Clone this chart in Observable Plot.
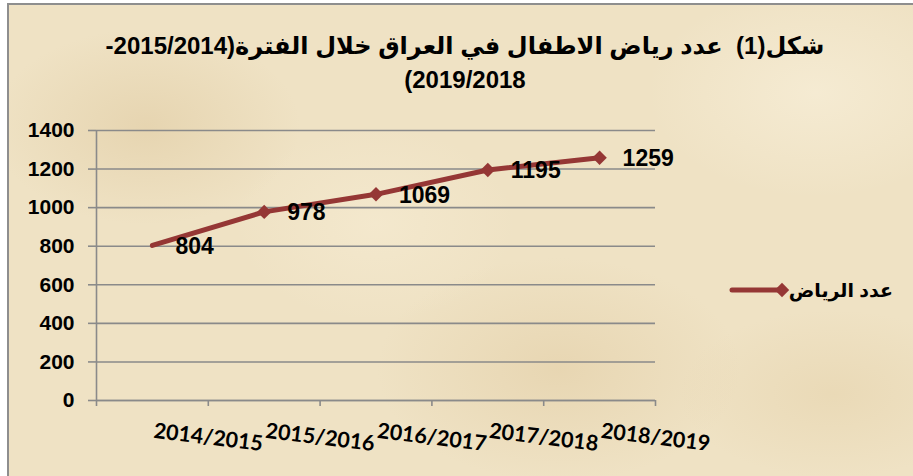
<!DOCTYPE html>
<html>
<head>
<meta charset="utf-8">
<script src="https://cdn.jsdelivr.net/npm/d3@7"></script>
<script src="https://cdn.jsdelivr.net/npm/@observablehq/plot@0.6"></script>
<style>
  html, body { margin: 0; padding: 0; background: #ffffff; }
  #wrap { position: relative; width: 913px; height: 476px; overflow: hidden; background: #ffffff; }
  #frame {
    position: absolute; left: 7px; top: 3px; width: 920px; height: 490px;
    border: 2px solid #8e8e8e; box-sizing: border-box;
    background:
      radial-gradient(ellipse 220px 140px at 15% 25%, rgba(214,188,140,0.35), transparent 70%),
      radial-gradient(ellipse 260px 160px at 60% 75%, rgba(218,192,145,0.35), transparent 70%),
      radial-gradient(ellipse 240px 150px at 88% 18%, rgba(250,242,222,0.55), transparent 70%),
      radial-gradient(ellipse 200px 140px at 40% 45%, rgba(248,238,214,0.5), transparent 70%),
      radial-gradient(ellipse 220px 120px at 90% 80%, rgba(222,198,152,0.3), transparent 70%),
      #efe2c4;
  }
  .title {
    position: absolute; left: 0; width: 930px; text-align: center;
    font-family: "Liberation Sans", "DejaVu Sans", sans-serif; font-weight: bold;
    font-size: 24px; line-height: 34px; color: #000; white-space: pre;
  }
  #chart { position: absolute; left: 0; top: 0; }
  #legend { position: absolute; left: 0; top: 0; }
</style>
</head>
<body>
<div id="wrap">
  <div id="frame"></div>
  <div id="chart"></div>
  <div id="legend"></div>
  <div class="title" id="t1" dir="rtl" style="top:29px"></div>
  <div class="title" id="t2" dir="rtl" style="top:63px"></div>
</div>
<script>
// ---- data ----
const categories = ["2014/2015", "2015/2016", "2016/2017", "2017/2018", "2018/2019"];
const values = [804, 978, 1069, 1195, 1259];
const yTicks = [0, 200, 400, 600, 800, 1000, 1200, 1400];
const seriesName = "عدد الرياض";
const titleLine1 = "شكل(1)  عدد رياض الاطفال في العراق خلال الفترة(2014\u200F/2015\u200F-";
const titleLine2 = "2018\u200F/2019)";

// ---- build ----
document.getElementById("t1").textContent = titleLine1;
document.getElementById("t2").textContent = titleLine2;

const data = categories.map((c, i) => ({i, c, v: values[i]}));
const boundaries = d3.range(categories.length + 1).map(k => k - 0.5);
const gridColor = "#8a8a8a";
const lineColor = "#953735";

const chart = Plot.plot({
  width: 913,
  height: 476,
  marginLeft: 96,
  marginRight: 258,
  marginTop: 130,
  marginBottom: 76,
  style: {background: "transparent", overflow: "visible"},
  x: {domain: [-0.5, categories.length - 0.5], axis: null},
  y: {domain: [0, 1400], axis: null},
  marks: [
    Plot.gridY(yTicks, {stroke: gridColor, strokeOpacity: 1, strokeWidth: 1.6}),
    Plot.axisY({
      ticks: yTicks, tickSize: 8, tickPadding: 14, label: null, tickFormat: d => String(d),
      stroke: gridColor, strokeWidth: 1.6, strokeOpacity: 1,
      fontSize: 21, fontWeight: "bold", fontFamily: "Liberation Sans, Arial, sans-serif", fill: "#000"
    }),
    Plot.ruleX([-0.5], {y1: 0, y2: 1400, stroke: gridColor, strokeWidth: 1.6}),
    Plot.axisX({
      ticks: boundaries, tickSize: 6, tickFormat: () => "", label: null,
      stroke: gridColor, strokeWidth: 1.6, strokeOpacity: 1
    }),
    Plot.ruleY([0], {stroke: gridColor, strokeWidth: 1.6}),
    Plot.line(data, {
      x: "i", y: "v", stroke: lineColor, strokeWidth: 5,
      strokeLinecap: "round", strokeLinejoin: "round"
    }),
    Plot.dot(data.slice(1), {x: "i", y: "v", symbol: "diamond2", r: 6.5, fill: lineColor, stroke: "none"}),
    Plot.text(data, {
      x: "i", y: "v", text: d => String(d.v), textAnchor: "start", dx: 23, dy: 1,
      fontSize: 23, fontWeight: "bold", fontFamily: "Liberation Sans, Arial, sans-serif", fill: "#000"
    }),
    Plot.text(data, {
      x: d => d.i + 0.5, y: () => 0, text: "c", dy: 37, rotate: 7,
      fontSize: 21.5, fontWeight: "bold", fontFamily: "Lato, Open Sans, sans-serif", fill: "#000"
    })
  ]
});
document.getElementById("chart").appendChild(chart);

// ---- legend ----
const lg = d3.select("#legend").append("svg")
  .attr("width", 913).attr("height", 476)
  .style("display", "block");
lg.append("line")
  .attr("x1", 732).attr("x2", 781).attr("y1", 290).attr("y2", 290)
  .attr("stroke", lineColor).attr("stroke-width", 5).attr("stroke-linecap", "round");
lg.append("path")
  .attr("d", d3.symbol(d3.symbolDiamond2, Math.PI * 6.5 * 6.5)())
  .attr("transform", "translate(782,290)")
  .attr("fill", lineColor);
lg.append("text")
  .attr("x", 893).attr("y", 290).attr("dy", "0.35em")
  .attr("text-anchor", "start").attr("direction", "rtl")
  .attr("font-family", "Liberation Sans, DejaVu Sans, sans-serif")
  .attr("font-weight", "bold").attr("font-size", 19)
  .text(seriesName);
</script>
</body>
</html>
